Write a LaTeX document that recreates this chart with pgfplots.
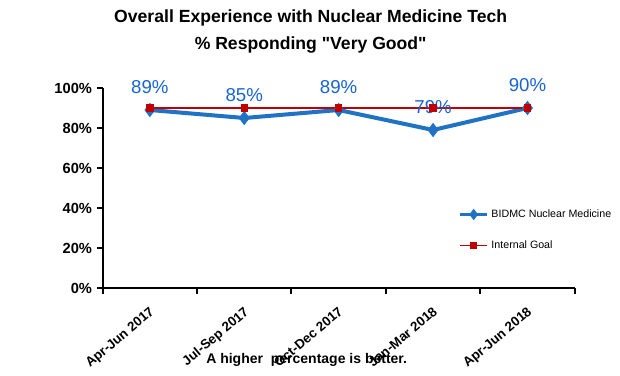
\documentclass[border=0pt]{standalone}
\usepackage{pgfplots}
\pgfplotsset{compat=1.18}
\usepackage{fontspec}
\setmainfont{Liberation Sans}[Ligatures=TeXOff]
\definecolor{serblue}{RGB}{31,114,196}
\definecolor{lblblue}{RGB}{25,100,210}
\definecolor{goalred}{RGB}{192,0,0}
\begin{document}
\begin{tikzpicture}
\path[use as bounding box] (0,0) rectangle (465pt,281.25pt);
\node[font=\bfseries\fontsize{13.2}{15}\selectfont] at (233pt,267.5pt) {Overall Experience with Nuclear Medicine Tech};
\node[font=\bfseries\fontsize{13.2}{15}\selectfont] at (233pt,247.5pt) {\% Responding "Very Good"};
\node[font=\bfseries\fontsize{10.5}{12}\selectfont] at (230pt,11pt) {A higher\ \ percentage is better.};
\begin{axis}[
  at={(77pt,65.25pt)}, anchor=south west,
  scale only axis, width=354pt, height=150pt,
  xmin=-0.5, xmax=4.5, ymin=0, ymax=100,
  axis x line*=bottom, axis y line*=left,
  axis line style={line width=1.5pt, -},
  /pgf/number format/assume math mode=true,
  xtick={0,1,2,3,4},
  xticklabels={Apr-Jun 2017,Jul-Sep 2017,Oct-Dec 2017,Jan-Mar 2018,Apr-Jun 2018},
  major x tick style={draw=none},
  minor xtick={-0.5,0.5,1.5,2.5,3.5,4.5},
  x tick label style={rotate=40, anchor=north east, font=\bfseries\fontsize{10}{12}\selectfont, xshift=-3pt, yshift=-3pt},
  ytick={0,20,40,60,80,100},
  yticklabels={0\%,20\%,40\%,60\%,80\%,100\%},
  y tick label style={font=\bfseries\fontsize{11}{13}\selectfont},
  tick align=outside, major tick length=4.5pt, minor tick length=4.5pt,
  tick style={line width=1.5pt, black},
  clip=false,
  legend cell align=left,
  legend style={at={(0.745,0.42)}, anchor=north west, draw=none, fill=none,
    font=\fontsize{8}{9.5}\selectfont, row sep=12pt},
  legend image code/.code={\draw[mark repeat=2,mark phase=2] plot coordinates {(0cm,0cm) (0.36cm,0cm) (0.72cm,0cm)};},
]
\addlegendimage{serblue, line width=2.2pt, mark=diamond*, mark size=2.5pt}
\addlegendentry{BIDMC Nuclear Medicine}
\addlegendimage{goalred, line width=1.1pt, mark=square*, mark size=2.2pt}
\addlegendentry{Internal Goal}
\addplot[forget plot, serblue, line width=3pt, mark=diamond*, mark size=5pt, mark options={solid, line width=0.5pt},
  nodes near coords={\pgfmathprintnumber{\pgfplotspointmeta}\%},
  every node near coord/.append style={font=\fontsize{14}{16}\selectfont, text=lblblue, anchor=center, yshift=17pt}]
  coordinates {(0,89) (1,85) (2,89) (3,79) (4,90)};
\addplot[forget plot, goalred, line width=1.1pt, mark=square*, mark size=2.2pt]
  coordinates {(0,90) (1,90) (2,90) (3,90) (4,90)};
\end{axis}
\end{tikzpicture}
\end{document}
